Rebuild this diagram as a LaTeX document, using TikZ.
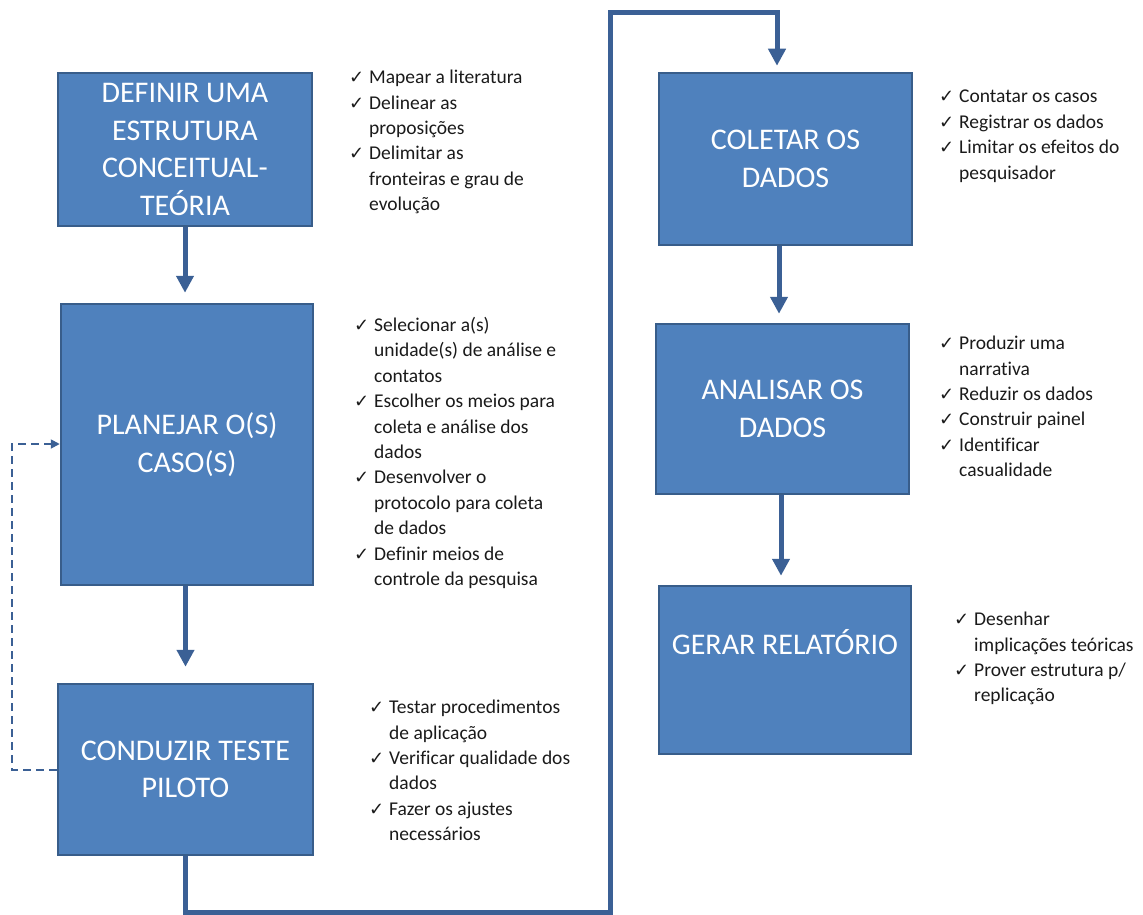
\documentclass[tikz,border=0pt]{standalone}
\usepackage{fontspec}
\setmainfont[Ligatures=NoCommon]{Carlito}
\newfontfamily\symfont{DejaVu Sans}
\usetikzlibrary{arrows.meta,calc}
\definecolor{boxfill}{HTML}{4F81BD}
\definecolor{boxline}{HTML}{385D8A}
\definecolor{arr}{HTML}{3B6095}
\definecolor{txt}{HTML}{1A1A1A}
\newcommand{\ck}{\makebox[20pt][l]{\symfont\fontsize{18}{18}\selectfont ✓}}
\newcommand{\ind}{\hspace*{20pt}}
\begin{document}
\begin{tikzpicture}[x=1pt,y=-1pt,
  stagebox/.style={draw=boxline, line width=2.5pt, fill=boxfill, text=white,
    font=\fontsize{30}{37.5}\selectfont, align=center, inner sep=0},
  flow/.style={draw=arr, line width=5pt, line join=miter,
    -{Triangle[width=17pt,length=17pt]}},
  back/.style={draw=arr, line width=1.8pt, dash pattern=on 8pt off 5pt,
    -{Triangle[width=9pt,length=9pt]}},
  listtext/.style={anchor=north west, align=left, inner sep=0, text=txt,
    font=\fontsize{19.5}{25.4}\selectfont}]
\useasboundingbox (0,0) rectangle (1143,915);

% stage boxes
\node[stagebox, minimum width=254pt, minimum height=153pt] (b1) at (185,149.5)
  {DEFINIR UMA\\ESTRUTURA\\CONCEITUAL-\\TEÓRIA};
\node[stagebox, minimum width=252pt, minimum height=281pt] (b2) at (187,444.5)
  {PLANEJAR O(S)\\CASO(S)};
\node[stagebox, minimum width=255pt, minimum height=171pt] (b3) at (185.5,769.5)
  {CONDUZIR TESTE\\PILOTO};
\node[stagebox, minimum width=253pt, minimum height=172pt] (b4) at (785.5,159)
  {COLETAR OS\\DADOS};
\node[stagebox, minimum width=253pt, minimum height=170pt] (b5) at (782.5,409)
  {ANALISAR OS\\DADOS};
\node[stagebox, minimum width=252pt, minimum height=168pt] (b6) at (785,670)
  {GERAR RELATÓRIO\\[18.5pt]\mbox{}};

% flow arrows
\draw[flow, shorten >=10pt] (b1.south) -- (b1.south |- b2.north);
\draw[flow, shorten >=16pt] (b2.south -| b3.north) -- (b3.north);
\coordinate (c1) at (610,912);
\coordinate (c3) at (777,13);
\draw[flow, shorten >=6pt] (b3.south) |- (c1) |- (c3) -- (c3 |- b4.north);
\draw[flow, shorten >=9pt] (b4.south -| 779,0) -- (779,0 |- b5.north);
\draw[flow, shorten >=9pt] (b5.south -| 781,0) -- (781,0 |- b6.north);

% feedback
\coordinate (d1) at (12,770);
\coordinate (d2) at (12,444);
\draw[back] (b3.west |- d1) -- (d1) -- (d2) -- (b2.west |- d2);

% lists
\node[listtext] (l1) at (349,70) {\ck Mapear a literatura\\
\ck Delinear as\\ \ind proposições\\
\ck Delimitar as\\ \ind fronteiras e grau de\\ \ind evolução};
\node[listtext] (l2) at (354,317) {\ck Selecionar a(s)\\ \ind unidade(s) de análise e\\ \ind contatos\\
\ck Escolher os meios para\\ \ind coleta e análise dos\\ \ind dados\\
\ck Desenvolver o\\ \ind protocolo para coleta\\ \ind de dados\\
\ck Definir meios de\\ \ind controle da pesquisa};
\node[listtext] (l3) at (369,700) {\ck Testar procedimentos\\ \ind de aplicação\\
\ck Verificar qualidade dos\\ \ind dados\\
\ck Fazer os ajustes\\ \ind necessários};
\node[listtext] (l4) at (939,90) {\ck Contatar os casos\\
\ck Registrar os dados\\
\ck Limitar os efeitos do\\ \ind pesquisador};
\node[listtext] (l5) at (939,336) {\ck Produzir uma\\ \ind narrativa\\
\ck Reduzir os dados\\
\ck Construir painel\\
\ck Identificar\\ \ind casualidade};
\node[listtext] (l6) at (954,612) {\ck Desenhar\\ \ind implicações teóricas\\
\ck Prover estrutura p/\\ \ind replicação};
\end{tikzpicture}
\end{document}
